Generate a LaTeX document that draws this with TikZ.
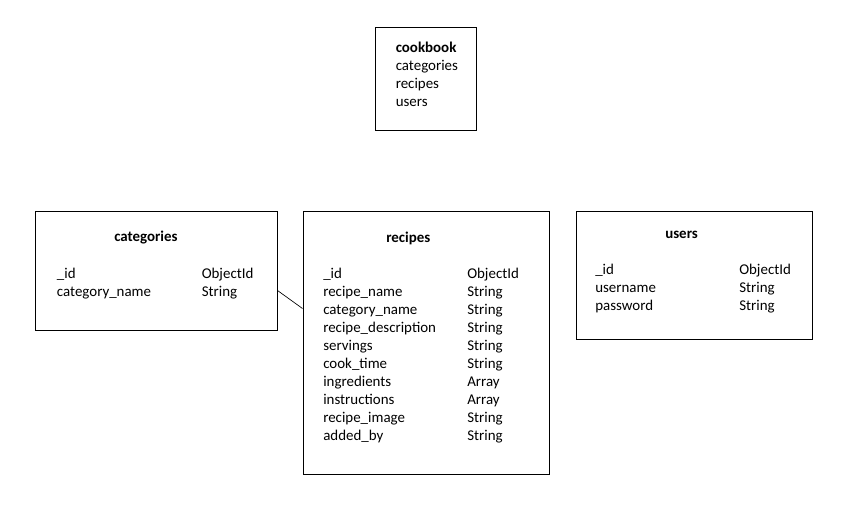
\documentclass[tikz,border=0pt]{standalone}
\usepackage{fontspec}
\setmainfont{Carlito}
\usetikzlibrary{fit}
\begin{document}
\begin{tikzpicture}[x=0.75pt,y=-0.75pt,
  box/.style={draw=black, line width=0.75pt, inner sep=0pt, fill=none},
  txt/.style={anchor=base west, inner sep=0pt, font=\fontsize{11.2}{13.5}\selectfont},
  ttl/.style={txt, font=\fontsize{11.2}{13.5}\selectfont\bfseries},
  link/.style={draw=black, line width=0.5pt}]
\path[use as bounding box, fill=white] (0,0) rectangle (854,516);

% boxes
\node[box, fit={(375,28) (476,131)}] (cook) {};
\node[box, fit={(35,212) (277,331)}] (cat) {};
\node[box, fit={(303,212) (549,475)}] (rec) {};
\node[box, fit={(576.5,212) (812,340)}] (usr) {};

% cookbook
\node[ttl] (cookT) at (395.5,52.7) {cookbook};
\node[txt] (cook1) at (395.5,70.7) {categories};
\node[txt] (cook2) at (395.5,88.7) {recipes};
\node[txt] (cook3) at (395.5,106.7) {users};

% categories
\node[ttl] (catT) at (114,242) {categories};
\node[txt] (catA1) at (56.7,278.7) {\_id};
\node[txt] (catB1) at (201.5,278.7) {ObjectId};
\node[txt] (catA2) at (56.7,296.7) {category\_name};
\node[txt] (catB2) at (201.5,296.7) {String};

% recipes
\node[ttl] (recT) at (386,242.7) {recipes};
\foreach \n/\a/\b [count=\i from 0] in {
  r1/\_id/ObjectId,
  r2/recipe\_name/String,
  r3/category\_name/String,
  r4/recipe\_description/String,
  r5/servings/String,
  r6/cook\_time/String,
  r7/ingredients/Array,
  r8/instructions/Array,
  r9/recipe\_image/String,
  r10/added\_by/String}{
  \node[txt] (\n a) at (323,278.7+18*\i) {\a};
  \node[txt] (\n b) at (467,278.7+18*\i) {\b};
}

% users
\node[ttl] (usrT) at (665,238.3) {users};
\node[txt] (usrA1) at (595,275) {\_id};
\node[txt] (usrB1) at (739,275) {ObjectId};
\node[txt] (usrA2) at (595,293) {username};
\node[txt] (usrB2) at (739,293) {String};
\node[txt] (usrA3) at (595,311) {password};
\node[txt] (usrB3) at (739,311) {String};

% connector
\coordinate (catP) at ([yshift=30.75pt]cat.south east);
\coordinate (recP) at ([yshift=-72.75pt]rec.north west);
\draw[link] (catP) -- (recP);
\end{tikzpicture}
\end{document}
